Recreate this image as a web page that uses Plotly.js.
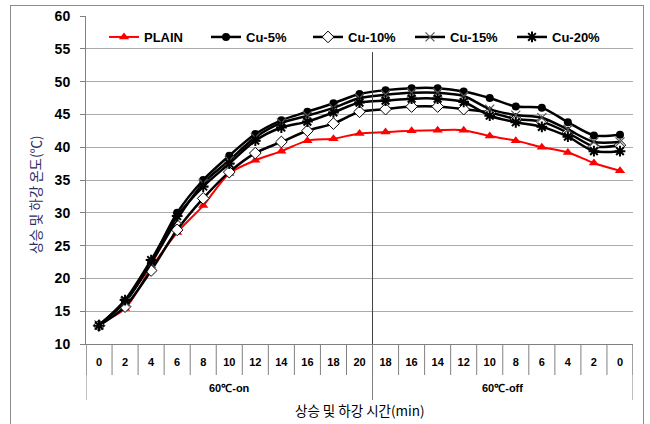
<!DOCTYPE html>
<html>
<head>
<meta charset="utf-8">
<script src="https://cdn.plot.ly/plotly-3.0.1.min.js"></script>
<style>
body{margin:0;padding:0;background:#fff;}
#wrap{position:relative;width:650px;height:424px;}
#chart{position:absolute;left:0;top:0;width:650px;height:424px;}
#frame{position:absolute;left:10px;top:5px;width:634px;height:420px;border:1px solid #8c8c8c;pointer-events:none;box-sizing:border-box;}
</style>
</head>
<body>
<div id="wrap"><div id="chart"></div><div id="frame"></div></div>
<script>
// Category labels (two-level axis)
const tickLabels = ["0","2","4","6","8","10","12","14","16","18","20","18","16","14","12","10","8","6","4","2","0"];
const groupNames = ["60℃-on", "60℃-off"];
const groupSizes = [11, 10];

// Series values (℃)
const plain = [13.1, 15.4, 21.6, 27.0, 31.1, 36.0, 38.0, 39.4, 41.0, 41.3, 42.1, 42.3, 42.5, 42.6, 42.6, 41.7, 41.0, 40.0, 39.2, 37.6, 36.4];
const cu5   = [12.9, 16.5, 22.5, 30.0, 35.0, 38.7, 42.0, 44.1, 45.4, 46.7, 48.1, 48.7, 49.0, 49.0, 48.5, 47.5, 46.2, 46.0, 43.8, 41.8, 41.9];
const cu10  = [12.8, 15.7, 21.2, 27.4, 32.2, 36.2, 39.1, 40.8, 42.5, 43.6, 45.4, 45.8, 46.2, 46.2, 45.8, 45.3, 44.3, 43.9, 42.2, 40.1, 40.3];
const cu15  = [12.9, 16.4, 22.3, 29.0, 34.5, 38.0, 41.5, 43.7, 44.8, 46.0, 47.5, 48.0, 48.3, 48.3, 47.8, 45.8, 44.9, 44.5, 42.7, 40.8, 40.8];
const cu20  = [12.8, 16.7, 22.8, 29.5, 34.0, 37.5, 41.0, 43.0, 43.9, 45.3, 46.8, 47.1, 47.4, 47.4, 46.9, 44.8, 43.8, 43.1, 41.6, 39.4, 39.4];

const seriesNames = ["PLAIN", "Cu-5%", "Cu-10%", "Cu-15%", "Cu-20%"];

const xIdx = tickLabels.map((_, i) => i);

const lineShape = {shape: 'spline', smoothing: 0.8};
const traces = [
  {x: xIdx, y: plain, name: seriesNames[0], mode: 'lines+markers',
   line: Object.assign({color: '#ff0000', width: 2}, lineShape),
   marker: {symbol: 'triangle-up', size: 9, color: '#ff0000'}},
  {x: xIdx, y: cu5, name: seriesNames[1], mode: 'lines+markers',
   line: Object.assign({color: '#000000', width: 2.5}, lineShape),
   marker: {symbol: 'circle', size: 8, color: '#000000'}},
  {x: xIdx, y: cu10, name: seriesNames[2], mode: 'lines+markers',
   line: Object.assign({color: '#000000', width: 2.5}, lineShape),
   marker: {symbol: 'diamond', size: 9, color: '#ffffff', line: {color: '#000000', width: 1}}},
  {x: xIdx, y: cu15, name: seriesNames[3], mode: 'lines+markers',
   line: Object.assign({color: '#000000', width: 2.5}, lineShape),
   marker: {symbol: 'x-thin-open', size: 9, color: '#555555', line: {color: '#555555', width: 1.2}}},
  {x: xIdx, y: cu20, name: seriesNames[4], mode: 'lines+markers',
   line: Object.assign({color: '#000000', width: 2.5}, lineShape),
   marker: {symbol: 'asterisk-open', size: 9, color: '#000000', line: {color: '#000000', width: 2}}}
];

// Separators under the axis
const plotH = 328;
const shapes = [];
for (let i = 0; i <= tickLabels.length; i++) {
  shapes.push({type: 'line', xref: 'x', yref: 'paper', x0: i - 0.5, x1: i - 0.5,
    y0: 0, y1: -31 / plotH, line: {color: '#808080', width: 1}});
}
let start = 0;
const groupBounds = [-0.5];
groupSizes.forEach(s => { start += s; groupBounds.push(start - 0.5); });
groupBounds.forEach(b => {
  shapes.push({type: 'line', xref: 'x', yref: 'paper', x0: b, x1: b,
    y0: 0, y1: -56 / plotH, line: {color: '#808080', width: 1}});
});
// divider between heating and cooling inside plot
shapes.push({type: 'line', xref: 'x', yref: 'y', x0: groupBounds[1], x1: groupBounds[1],
  y0: 10, y1: 54.5, line: {color: '#404040', width: 1}});

const annotations = [];
let acc = 0;
groupNames.forEach((g, k) => {
  const center = acc + (groupSizes[k] - 1) / 2;
  acc += groupSizes[k];
  annotations.push({xref: 'x', yref: 'paper', x: center, y: -44 / plotH, text: '<b>' + g + '</b>',
    showarrow: false, xanchor: 'center', yanchor: 'middle',
    font: {family: 'Liberation Sans, Arial, sans-serif', size: 11, color: '#000'}});
});
annotations.push({xref: 'paper', yref: 'paper', x: 0.5, y: -66 / plotH, text: '상승 및 하강 시간(min)',
  showarrow: false, xanchor: 'center', yanchor: 'middle',
  font: {family: 'Noto Sans CJK KR, sans-serif', size: 13.5, color: '#000'}});
annotations.push({xref: 'paper', yref: 'paper', x: -51 / 547, y: 1 - 179 / plotH, text: '상승 및 하강 온도(℃)',
  showarrow: false, xanchor: 'center', yanchor: 'middle', textangle: -90,
  font: {family: 'Noto Sans CJK KR, sans-serif', size: 13.5, color: '#2b2b66'}});

const layout = {
  width: 650, height: 424,
  margin: {l: 86, r: 17, t: 16, b: 80, pad: 0},
  paper_bgcolor: '#ffffff', plot_bgcolor: '#ffffff',
  showlegend: true,
  legend: {orientation: 'h', x: 18 / 547, xanchor: 'left', y: 1 - 21 / plotH, yanchor: 'middle',
    bgcolor: 'rgba(0,0,0,0)', itemwidth: 30, entrywidth: 57, traceorder: 'normal',
    font: {family: 'Liberation Sans, Arial, sans-serif', size: 13, color: '#000', weight: 'bold'}},
  xaxis: {
    range: [-0.5, tickLabels.length - 0.5], tickmode: 'array', tickvals: xIdx, ticktext: tickLabels,
    showgrid: false, zeroline: false, showline: true, linecolor: '#808080', linewidth: 1,
    ticks: '', ticklabelstandoff: 8,
    tickfont: {family: 'Liberation Sans, Arial, sans-serif', size: 11, color: '#000', weight: 'bold'}
  },
  yaxis: {
    range: [10, 60], dtick: 5, tick0: 10, showgrid: true, gridcolor: '#ababab', gridwidth: 1,
    zeroline: false, showline: true, linecolor: '#808080', linewidth: 1,
    ticks: 'outside', ticklen: 5, tickcolor: '#808080', ticklabelstandoff: 7,
    tickfont: {family: 'Liberation Sans, Arial, sans-serif', size: 14, color: '#000', weight: 'bold'}
  },
  shapes: shapes,
  annotations: annotations
};

Plotly.newPlot('chart', traces, layout, {displayModeBar: false, staticPlot: true});
</script>
</body>
</html>
